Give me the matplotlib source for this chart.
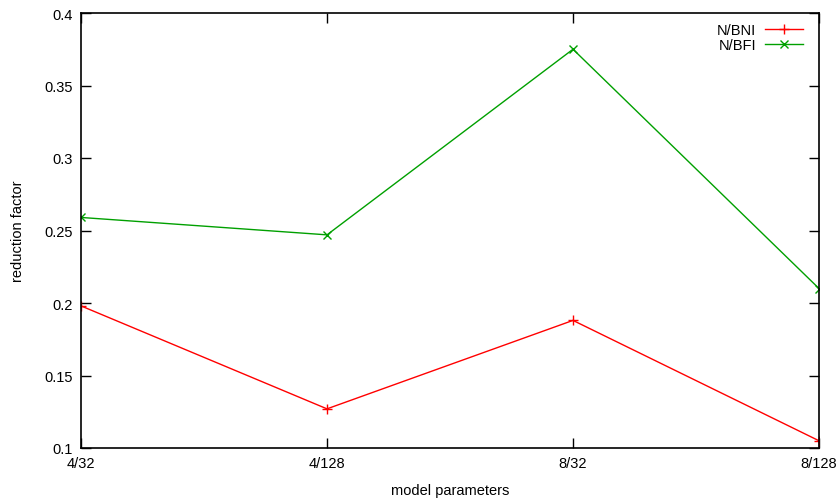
import matplotlib
matplotlib.use("Agg")
import matplotlib.pyplot as plt

# data
params = ['4/32', '4/128', '8/32', '8/128']
n_bni = [0.198, 0.127, 0.188, 0.105]
n_bfi = [0.259, 0.247, 0.375, 0.210]

plt.rcParams['font.family'] = ['Liberation Sans', 'DejaVu Sans']

fig = plt.figure(figsize=(8.4, 5.02), dpi=100)
ax = fig.add_axes([81 / 840, 1 - 449 / 502, 738 / 840, 435 / 502])

x = list(range(len(params)))
ax.plot(x, n_bni, color='#ff0000', lw=1, marker='+', ms=7, mew=1, label='N/BNI')
ax.plot(x, n_bfi, color='#00a000', lw=1, marker='x', ms=6, mew=1, label='N/BFI')

ax.set_xlim(0, 3)
ax.set_ylim(0.1, 0.4)
ax.set_xticks(x)
ax.set_xticklabels(params)
ax.set_yticks([0.1, 0.15, 0.2, 0.25, 0.3, 0.35, 0.4])
ax.set_yticklabels(['0.1', '0.15', '0.2', '0.25', '0.3', '0.35', '0.4'])
ax.tick_params(direction='in', length=7, width=1, top=True, right=True,
               labelsize=10.5, pad=6)
for s in ax.spines.values():
    s.set_linewidth(1.2)

ax.set_xlabel('model parameters', fontsize=10.5, labelpad=9)
ax.set_ylabel('reduction factor', fontsize=10.5, labelpad=14)

leg = ax.legend(loc='upper right', bbox_to_anchor=(0.978, 0.976),
                frameon=False, markerfirst=False, borderpad=0,
                fontsize=10.5, handlelength=2.6, borderaxespad=0,
                labelspacing=0.05, handletextpad=0.6)

fig.savefig('out.png', dpi=100)
